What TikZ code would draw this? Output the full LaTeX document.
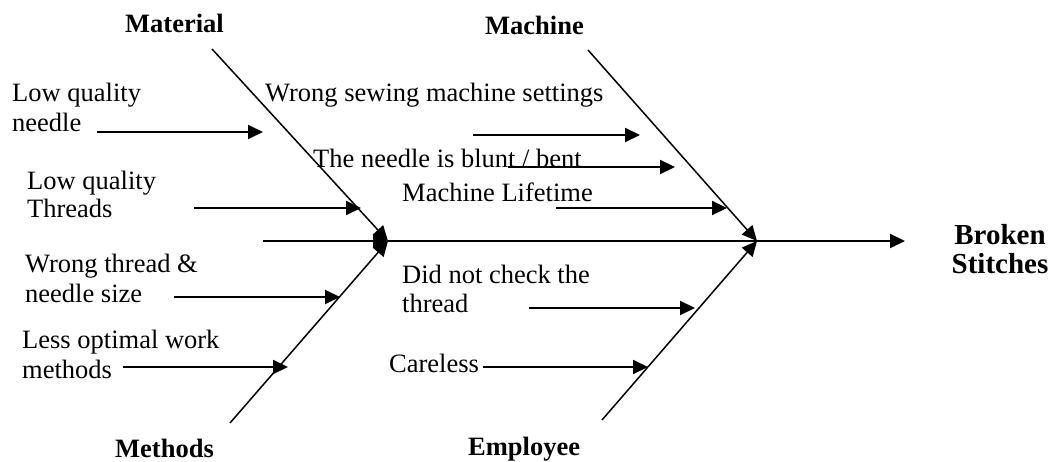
\documentclass[tikz,border=0pt]{standalone}
\usepackage{fontspec}
\setmainfont{Liberation Serif}
\usetikzlibrary{arrows.meta}
\newcommand{\twolines}[3][30pt]{\vtop{\baselineskip=#1\hbox{#2}\hbox{#3}}}
\newcommand{\twocenter}[2]{\vtop{\baselineskip=29pt\halign{\hfil##\hfil\cr #1\cr #2\cr}}}
\begin{document}
\begin{tikzpicture}[x=1pt,y=-1pt,
  lbl/.style={inner sep=0pt,anchor=base west,font=\fontsize{26.5}{30}\selectfont},
  cat/.style={inner sep=0pt,anchor=base west,font=\fontsize{26.5}{30}\selectfont\bfseries},
  tip/.style={-{Triangle[length=15pt,width=14pt]}},
  cause/.style={tip,line width=2pt},
  bone/.style={tip,line width=1.5pt},
  spine/.style={tip,line width=2pt}]
\useasboundingbox (0,0) rectangle (1056,462);
% spine
\coordinate (S) at (263,241);
\coordinate (J1) at (388,241);
\coordinate (J2) at (757,241);
\coordinate (E) at (905,241);
\draw[spine] (S) -- (J1);
\draw[line width=2pt] (J1) -- (J2);
\draw[spine] (J2) -- (E);
% bones
\coordinate (MT) at (212,49);
\coordinate (MaT) at (588,50);
\coordinate (MB) at (230,423);
\coordinate (EB) at (602,420);
\draw[bone] (MT) -- (J1);
\draw[bone] (MB) -- (J1);
\draw[bone] (MaT) -- (J2);
\draw[bone] (EB) -- (J2);
% category labels
\node[cat] (mat) at (125,33) {Material};
\node[cat] (mac) at (485,35) {Machine};
\node[cat] (met) at (115,457) {Methods};
\node[cat] (emp) at (468,455) {Employee};
\node[inner sep=0pt,anchor=base,font=\fontsize{29}{30}\selectfont\bfseries] (eff) at (1000,244) {\twocenter{Broken}{Stitches}};
% cause labels
\node[lbl] (t1) at (12,102) {\twolines{Low quality}{needle}};
\node[lbl] (t2) at (27,190) {\twolines[28pt]{Low quality}{Threads}};
\node[lbl] (t3) at (25,272) {\twolines{Wrong thread \&}{needle size}};
\node[lbl] (t4) at (22,348) {\twolines{Less optimal work}{methods}};
\node[lbl] (t5) at (265,102) {Wrong sewing machine settings};
\node[lbl] (t6) at (313,168) {The needle is blunt / bent};
\node[lbl] (t7) at (402,202) {Machine Lifetime};
\node[lbl] (t8) at (402,283) {\twolines[29pt]{Did not check the}{thread}};
\node[lbl] (t9) at (389,372) {Careless};
% cause arrows
\coordinate (a1) at (97,132);  \coordinate (b1) at (263,132);
\coordinate (a2) at (194,208); \coordinate (b2) at (361,208);
\coordinate (a3) at (174,297); \coordinate (b3) at (340,297);
\coordinate (a4) at (123,367); \coordinate (b4) at (288,367);
\coordinate (a5) at (473,135); \coordinate (b5) at (640,135);
\coordinate (a6) at (508,167); \coordinate (b6) at (675,167);
\coordinate (a7) at (556,208); \coordinate (b7) at (727,208);
\coordinate (a8) at (529,308); \coordinate (b8) at (695,308);
\coordinate (a9) at (483,367); \coordinate (b9) at (648,367);
\foreach \i in {1,...,9} {\draw[cause] (a\i) -- (b\i);}
\end{tikzpicture}
\end{document}
